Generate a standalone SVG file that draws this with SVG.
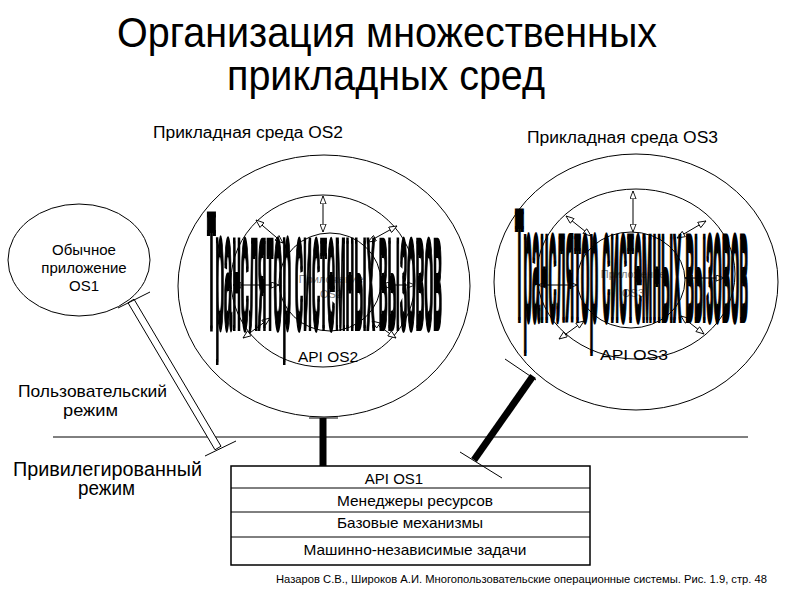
<svg xmlns="http://www.w3.org/2000/svg" width="800" height="600" viewBox="0 0 800 600">
<defs>
<style>
text{font-family:"Liberation Sans","DejaVu Sans",Arial,sans-serif;fill:#000}
.ring{fill:none;stroke:#000;stroke-width:1}
.thin{fill:none;stroke:#000;stroke-width:1}
.arr{fill:none;stroke:#000;stroke-width:1;marker-start:url(#ah);marker-end:url(#ah)}
.thick{stroke:#000;stroke-width:7;fill:none}
.small{font-size:11px;fill:#808080}
.big{font-size:30px;font-weight:bold;stroke:#000;stroke-width:1.1}
.row{font-size:15px}
</style>
<marker id="ah" viewBox="0 0 10 8" refX="9.5" refY="4" markerWidth="9" markerHeight="7" markerUnits="userSpaceOnUse" orient="auto-start-reverse">
<path d="M0.5,0.5 L9.5,4 L0.5,7.5 Z" fill="#fff" stroke="#000" stroke-width="1"/>
</marker>
</defs>
<rect width="800" height="600" fill="#fff"/>

<g id="title">
<text x="117" y="47" font-size="42" textLength="540" lengthAdjust="spacingAndGlyphs">Организация множественных</text>
<text x="227" y="90" font-size="42" textLength="318" lengthAdjust="spacingAndGlyphs">прикладных сред</text>
</g>

<g id="modes">
<line x1="53" y1="437" x2="748" y2="437" class="thin" stroke-width="1.5"/>
<text x="18" y="397" font-size="17" textLength="149" lengthAdjust="spacingAndGlyphs">Пользовательский</text>
<text x="63" y="416" font-size="17" textLength="55" lengthAdjust="spacingAndGlyphs">режим</text>
<text x="13" y="476" font-size="20" textLength="189" lengthAdjust="spacingAndGlyphs">Привилегированный</text>
<text x="78" y="495" font-size="20" textLength="57" lengthAdjust="spacingAndGlyphs">режим</text>
</g>

<g id="node-os1">
<ellipse cx="79" cy="260" rx="71" ry="56" class="ring"/>
<text x="84" y="255" font-size="15" text-anchor="middle">Обычное</text>
<text x="84" y="273" font-size="15" text-anchor="middle">приложение</text>
<text x="84" y="291" font-size="15" text-anchor="middle">OS1</text>
</g>

<g id="node-os2">
<text x="153" y="138" font-size="16" textLength="190" lengthAdjust="spacingAndGlyphs">Прикладная среда OS2</text>
<ellipse cx="324" cy="286" rx="146" ry="131" class="ring"/>
<ellipse cx="323" cy="281" rx="92" ry="86" class="ring"/>
<ellipse cx="330" cy="282" rx="51" ry="49" class="ring"/>
<line x1="323" y1="196" x2="323" y2="232" class="arr"/>
<line x1="256" y1="220" x2="283" y2="243" class="arr"/>
<line x1="368" y1="242" x2="397" y2="226" class="arr"/>
<line x1="233" y1="285" x2="279" y2="285" class="arr"/>
<line x1="381" y1="285" x2="415" y2="285" class="arr"/>
<line x1="243" y1="338" x2="270" y2="318" class="arr"/>
<line x1="372" y1="321" x2="396" y2="338" class="arr"/>
<text x="331" y="283" class="small" text-anchor="middle">Приложение</text>
<text x="331" y="298" class="small" text-anchor="middle">OS2</text>
<text x="298" y="362" font-size="15" textLength="60" lengthAdjust="spacingAndGlyphs">API OS2</text>
<text class="big" transform="translate(207,328) scale(1,5.5)" x="0" y="0" textLength="235" lengthAdjust="spacingAndGlyphs">Транслятор системных вызовов</text>
</g>

<g id="node-os3">
<text x="527" y="143" font-size="16" textLength="191" lengthAdjust="spacingAndGlyphs">Прикладная среда OS3</text>
<ellipse cx="636" cy="282" rx="142" ry="128" class="ring"/>
<ellipse cx="636" cy="274" rx="99" ry="85" class="ring"/>
<ellipse cx="631" cy="280" rx="54" ry="48" class="ring"/>
<line x1="633" y1="191" x2="633" y2="232" class="arr"/>
<line x1="566" y1="216" x2="591" y2="236" class="arr"/>
<line x1="677" y1="238" x2="706" y2="221" class="arr"/>
<line x1="538" y1="285" x2="577" y2="285" class="arr"/>
<line x1="685" y1="278" x2="724" y2="278" class="arr"/>
<line x1="559" y1="339" x2="584" y2="321" class="arr"/>
<line x1="681" y1="316" x2="704" y2="334" class="arr"/>
<text x="633" y="278" class="small" text-anchor="middle">Приложение</text>
<text x="633" y="297" class="small" text-anchor="middle">OS3</text>
<text x="600" y="360" font-size="15" textLength="68" lengthAdjust="spacingAndGlyphs">API OS3</text>
<text class="big" transform="translate(515,320) scale(1,5.25)" x="0" y="0" textLength="233" lengthAdjust="spacingAndGlyphs">Транслятор системных вызовов</text>
</g>

<g id="node-os1-kernel">
<rect x="231" y="466" width="359" height="99" fill="#fff" stroke="#000" stroke-width="1.5"/>
<line x1="231" y1="488" x2="590" y2="488" class="thin" stroke-width="1.5"/>
<line x1="231" y1="512" x2="590" y2="512" class="thin" stroke-width="1.5"/>
<line x1="231" y1="537" x2="590" y2="537" class="thin" stroke-width="1.5"/>
<text x="394" y="484" class="row" text-anchor="middle">API OS1</text>
<text x="415" y="506" class="row" text-anchor="middle" textLength="156" lengthAdjust="spacingAndGlyphs">Менеджеры ресурсов</text>
<text x="410" y="528" class="row" text-anchor="middle" textLength="146" lengthAdjust="spacingAndGlyphs">Базовые механизмы</text>
<text x="415" y="555" class="row" text-anchor="middle" textLength="223" lengthAdjust="spacingAndGlyphs">Машинно-независимые задачи</text>
</g>

<g id="connectors">
<polygon points="128,302.8 134,299.2 221,446.2 215,449.8" fill="#fff" stroke="#000" stroke-width="1"/>
<line x1="118" y1="308" x2="150" y2="292" class="thin"/>
<line x1="205" y1="456" x2="236" y2="441" class="thin"/>
<line x1="323" y1="418" x2="323" y2="466" class="thick"/>
<line x1="309" y1="418" x2="338" y2="418" class="thin"/>
<line x1="533" y1="376" x2="474" y2="460" class="thick"/>
<line x1="505" y1="359" x2="536" y2="380" class="thin"/>
<line x1="460" y1="452" x2="502" y2="478" class="thin"/>
</g>

<g id="footer">
<text x="276" y="583" font-size="10.5" textLength="491" lengthAdjust="spacingAndGlyphs">Назаров С.В., Широков А.И. Многопользовательские операционные системы. Рис. 1.9, стр. 48</text>
</g>
</svg>
